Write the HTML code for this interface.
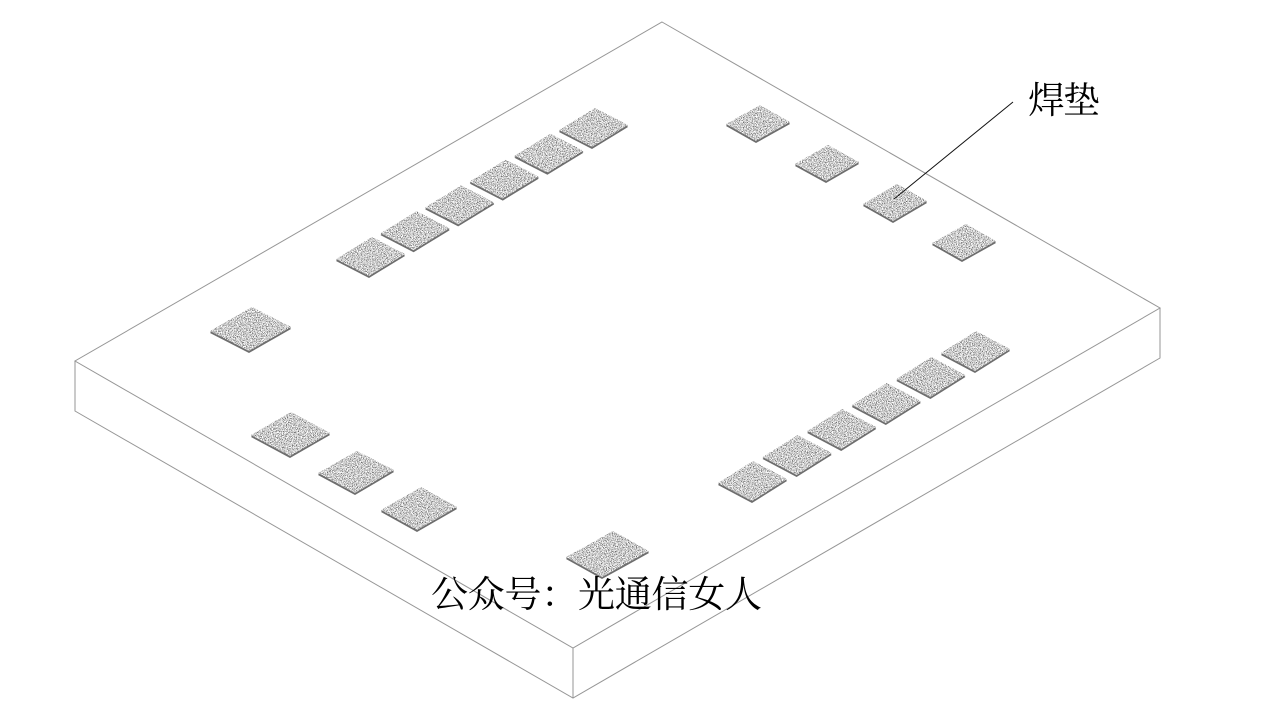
<!DOCTYPE html>
<html><head><meta charset="utf-8"><style>
html,body{margin:0;padding:0;background:#fff;width:1280px;height:720px;overflow:hidden}
svg{display:block}
text{font-family:"Liberation Serif","Noto Serif CJK SC",serif;font-size:37px;fill:#000}
</style></head><body>
<svg xmlns="http://www.w3.org/2000/svg" width="1280" height="720" viewBox="0 0 1280 720">
<defs>
<filter id="n" x="0" y="0" width="100%" height="100%" color-interpolation-filters="sRGB">
<feTurbulence type="fractalNoise" baseFrequency="1.2" numOctaves="1" seed="4"/>
<feColorMatrix type="matrix" values="2.4 0 0 0 -0.38  2.4 0 0 0 -0.38  2.4 0 0 0 -0.38  0 0 0 0 1"/>
</filter>
<g id="pads">
<polygon points="336,259 372,237 405,254 369,276"/>
<polygon points="380.6,233.2 416.6,211.2 449.6,228.2 413.6,250.2"/>
<polygon points="425.2,207.4 461.2,185.4 494.2,202.4 458.2,224.4"/>
<polygon points="469.8,181.6 505.8,159.6 538.8,176.6 502.8,198.6"/>
<polygon points="514.4,155.8 550.4,133.8 583.4,150.8 547.4,172.8"/>
<polygon points="559,130 595,108 628,125 592,147"/>
<polygon points="718,483 753,461 787,479 752,501"/>
<polygon points="762.6,457 797.6,435 831.6,453 796.6,475"/>
<polygon points="807.2,431 842.2,409 876.2,427 841.2,449"/>
<polygon points="851.8,405 886.8,383 920.8,401 885.8,423"/>
<polygon points="896.4,379 931.4,357 965.4,375 930.4,397"/>
<polygon points="941,353 976,331 1010,349 975,371"/>
<polygon points="726,124 760,105 790,122 756,141"/>
<polygon points="795,164 828,145 859,162 826,181"/>
<polygon points="863,204 897,184 927,201 893,221"/>
<polygon points="932,243 966,224 996,241 962,260"/>
<polygon points="210,331 252,307 291,327 249,351"/>
<polygon points="251,435 291,412 330,433 290,456"/>
<polygon points="318,473 357,451 394,470 355,493"/>
<polygon points="381,510 421,487 457,507 417,530"/>
<polygon points="566,557 613,531 649,551 602,577"/>
</g>
<mask id="m" maskUnits="userSpaceOnUse" x="0" y="0" width="1280" height="720">
<use href="#pads" fill="#fff"/>
</mask>
</defs>
<rect width="1280" height="720" fill="#fff"/>
<g fill="none" stroke="#969696" stroke-width="1">
<polygon points="662,22 1160,308 573,648 75,361"/>
<polyline points="75,361 75,411 573,698 1160,358 1160,308"/>
<line x1="573" y1="648" x2="573" y2="698"/>
</g>
<g fill="#6e6e6e">
<use href="#pads" y="2"/>
<use href="#pads" y="1"/>
</g>
<g mask="url(#m)">
<rect width="1280" height="720" filter="url(#n)"/>
</g>
<line x1="1013" y1="102" x2="894" y2="199" stroke="#111" stroke-width="1"/>
<text x="1028" y="113" textLength="72" lengthAdjust="spacing">焊垫</text>
<text x="431" y="607" textLength="331" lengthAdjust="spacing">公众号：光通信女人</text>
</svg>
</body></html>
